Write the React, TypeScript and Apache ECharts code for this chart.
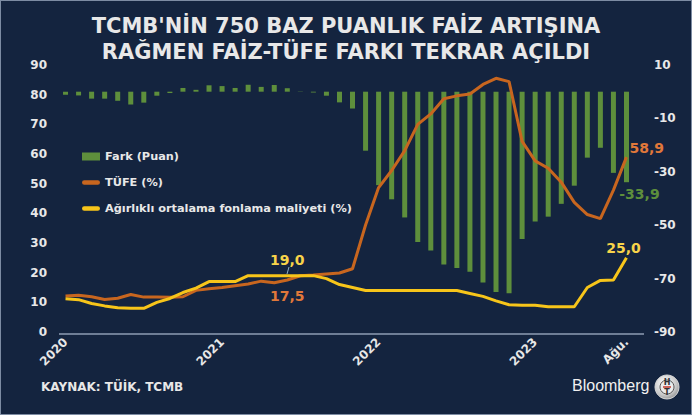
import React, { useEffect, useRef } from "react";
import * as echarts from "echarts";

const months: string[] = [
  "Oca 2020","Şub 2020","Mar 2020","Nis 2020","May 2020","Haz 2020","Tem 2020","Ağu 2020","Eyl 2020","Eki 2020","Kas 2020","Ara 2020",
  "Oca 2021","Şub 2021","Mar 2021","Nis 2021","May 2021","Haz 2021","Tem 2021","Ağu 2021","Eyl 2021","Eki 2021","Kas 2021","Ara 2021",
  "Oca 2022","Şub 2022","Mar 2022","Nis 2022","May 2022","Haz 2022","Tem 2022","Ağu 2022","Eyl 2022","Eki 2022","Kas 2022","Ara 2022",
  "Oca 2023","Şub 2023","Mar 2023","Nis 2023","May 2023","Haz 2023","Tem 2023","Ağu 2023",
];

const tickLabels: Record<number, string> = { 0: "2020", 12: "2021", 24: "2022", 36: "2023", 43: "Ağu." };

const fark: number[] = [
  -1.1, -1.4, -2.6, -2.6, -3.4, -4.8, -4.1, -1.5, -0.5, 1.4, 0.7, 2.4,
  2.1, 1.4, 2.6, 1.8, 2.5, 1.3, 0.1, -0.3, -1.5, -4.0, -6.3, -22.1,
  -35.0, -40.3, -47.1, -56.3, -59.5, -64.7, -66.0, -67.4, -71.5, -75.0, -75.5, -55.2,
  -48.6, -46.8, -42.0, -35.2, -24.7, -21.0, -30.4, -33.9,
];

const tufe: number[] = [
  12.15, 12.37, 11.86, 10.94, 11.39, 12.62, 11.76, 11.77, 11.75, 11.89, 14.03, 14.6,
  14.97, 15.61, 16.19, 17.14, 16.59, 17.53, 18.95, 19.25, 19.58, 19.89, 21.31, 36.08,
  48.69, 54.44, 61.14, 69.97, 73.5, 78.62, 79.6, 80.21, 83.45, 85.51, 84.39, 64.27,
  57.68, 55.18, 50.51, 43.68, 39.59, 38.21, 47.83, 58.94,
];

const fonlama: number[] = [
  11.2, 10.9, 9.6, 8.8, 8.2, 8.0, 8.0, 10.0, 11.3, 13.3, 14.8, 17.0,
  17.0, 17.0, 19.0, 19.0, 19.0, 19.0, 19.0, 19.0, 18.0, 16.0, 15.0, 14.0,
  14.0, 14.0, 14.0, 14.0, 14.0, 14.0, 14.0, 13.0, 12.0, 10.5, 9.2, 9.0,
  9.0, 8.5, 8.5, 8.5, 15.0, 17.4, 17.5, 25.0,
];

const seriesNames = ["Fark (Puan)", "TÜFE (%)", "Ağırlıklı ortalama fonlama maliyeti (%)"];

const BG = "#14243f";
const GREEN = "#5e8f3c";
const ORANGE = "#c8661f";
const YELLOW = "#f7c51a";
const TEXT = "#e8e8e8";
const FONT = "DejaVu Sans";
const LINE_ICON = "path://M2,0 L14,0 A2,2 0 0 1 14,4 L2,4 A2,2 0 0 1 2,0 Z";

const fmt = (v: number) => v.toFixed(1).replace(".", ",");

export default function App() {
  const ref = useRef<HTMLDivElement>(null);
  useEffect(() => {
    document.body.style.margin = "0";
    if (!ref.current) return;
    const chart = echarts.init(ref.current, undefined, { renderer: "svg" });
    const last = fark.length - 1;
    const ANN = 17;
    const lbl = (color: string, extra: any) => ({
      show: true,
      color,
      fontFamily: FONT,
      fontWeight: "bold",
      fontSize: 14,
      ...extra,
    });

    const barData = fark.map((v, i) =>
      i === last
        ? { value: v, label: lbl(GREEN, { position: "bottom", offset: [13, 0], formatter: () => fmt(v) }) }
        : v
    );
    const tufeData = tufe.map((v, i) =>
      i === last
        ? { value: v, label: lbl("#e0783a", { position: "right", offset: [-2, -9], formatter: () => fmt(v) }) }
        : i === ANN
        ? { value: v, label: lbl("#e0783a", { position: "bottom", distance: 9, formatter: () => fmt(v) }) }
        : v
    );
    const fonData = fonlama.map((v, i) =>
      i === last
        ? { value: v, label: lbl("#f8d44a", { position: "top", offset: [-3, 0], distance: 3, formatter: () => fmt(v) }) }
        : i === ANN
        ? { value: v, label: lbl("#f8d44a", { position: "top", distance: 9, formatter: () => fmt(v) }) }
        : v
    );

    chart.setOption({
      animation: false,
      backgroundColor: BG,
      title: {
        text: "TCMB'NİN 750 BAZ PUANLIK FAİZ ARTIŞINA\nRAĞMEN FAİZ-TÜFE FARKI TEKRAR AÇILDI",
        left: "center",
        top: 7,
        textStyle: { color: TEXT, fontFamily: FONT, fontWeight: "bold", fontSize: 21, lineHeight: 26 },
      },
      legend: {
        orient: "vertical",
        left: 76,
        top: 145,
        itemGap: 15,
        itemWidth: 18,
        itemHeight: 8,
        data: [
          { name: seriesNames[0], icon: "rect" },
          { name: seriesNames[1], icon: LINE_ICON },
          { name: seriesNames[2], icon: LINE_ICON },
        ],
        textStyle: { color: TEXT, fontFamily: FONT, fontWeight: "bold", fontSize: 11.3 },
      },
      grid: { left: 58, right: 58, top: 64, bottom: 82 },
      xAxis: {
        type: "category",
        data: months,
        boundaryGap: true,
        axisLine: { show: false },
        axisTick: { show: false },
        axisLabel: {
          interval: (i: number) => tickLabels[i] !== undefined,
          formatter: (_v: string, i: number) => tickLabels[i] ?? "",
          rotate: 45,
          margin: 8,
          color: TEXT,
          fontFamily: FONT,
          fontWeight: "bold",
          fontSize: 12,
        },
      },
      yAxis: [
        {
          type: "value",
          min: 0,
          max: 90,
          interval: 10,
          position: "left",
          splitLine: { show: false },
          axisLine: { show: false },
          axisTick: { show: false },
          axisLabel: { color: TEXT, fontFamily: FONT, fontWeight: "bold", fontSize: 12, margin: 12 },
        },
        {
          type: "value",
          min: -90,
          max: 10,
          interval: 20,
          position: "right",
          splitLine: { show: false },
          axisLine: { show: false },
          axisTick: { show: false },
          axisLabel: { color: TEXT, fontFamily: FONT, fontWeight: "bold", fontSize: 12, margin: 21 },
        },
      ],
      series: [
        {
          name: seriesNames[0],
          type: "bar",
          yAxisIndex: 1,
          barWidth: 5,
          itemStyle: { color: GREEN },
          data: barData,
        },
        {
          name: seriesNames[1],
          type: "line",
          yAxisIndex: 0,
          symbol: "circle",
          symbolSize: 0.01,
          showSymbol: true,
          lineStyle: { color: ORANGE, width: 3 },
          itemStyle: { color: ORANGE },
          data: tufeData,
          z: 3,
        },
        {
          name: seriesNames[2],
          type: "line",
          yAxisIndex: 0,
          symbol: "circle",
          symbolSize: 0.01,
          showSymbol: true,
          lineStyle: { color: YELLOW, width: 3 },
          itemStyle: { color: YELLOW },
          data: fonData,
          z: 4,
        },
      ],
      graphic: [
        { type: "line", shape: { x1: 58, y1: 333, x2: 643, y2: 333 }, style: { stroke: "#8e9db5", lineWidth: 1.5 } },
        { type: "line", shape: { x1: 288, y1: 266, x2: 286, y2: 273 }, style: { stroke: "#8fb0c8", lineWidth: 1 } },
        { type: "text", left: 40, top: 380, style: { text: "KAYNAK: TÜİK, TCMB", fill: TEXT, font: `bold 12px "${FONT}"` } },
        { type: "text", left: 571, top: 376, style: { text: "Bloomberg", fill: "#f0f0f0", font: `16px "Liberation Sans"` } },
        {
          type: "circle",
          shape: { cx: 666, cy: 386, r: 12 },
          style: {
            fill: new echarts.graphic.RadialGradient(0.4, 0.35, 0.8, [
              { offset: 0, color: "#ffffff" },
              { offset: 0.6, color: "#c9c9c9" },
              { offset: 1, color: "#7a7a7a" },
            ]),
            stroke: "#d8d8d8",
            lineWidth: 1,
          },
        },
        { type: "circle", shape: { cx: 666, cy: 386, r: 7 }, style: { fill: "#ececec", stroke: "#555", lineWidth: 1 } },
        { type: "text", x: 666, y: 381, style: { text: "H", fill: "#333", font: `bold 8px "${FONT}"`, align: "center", verticalAlign: "middle" } },
        { type: "line", shape: { x1: 662, y1: 386, x2: 670, y2: 386 }, style: { stroke: "#c0392b", lineWidth: 1.5 } },
        { type: "text", x: 666, y: 391, style: { text: "T", fill: "#333", font: `bold 8px "${FONT}"`, align: "center", verticalAlign: "middle" } },
      ],
    });
    return () => chart.dispose();
  }, []);
  return (
    <div
      ref={ref}
      style={{ position: "fixed", left: 0, top: 0, width: 692, height: 415, boxSizing: "border-box", border: "1px solid #7d8ca3" }}
    />
  );
}
